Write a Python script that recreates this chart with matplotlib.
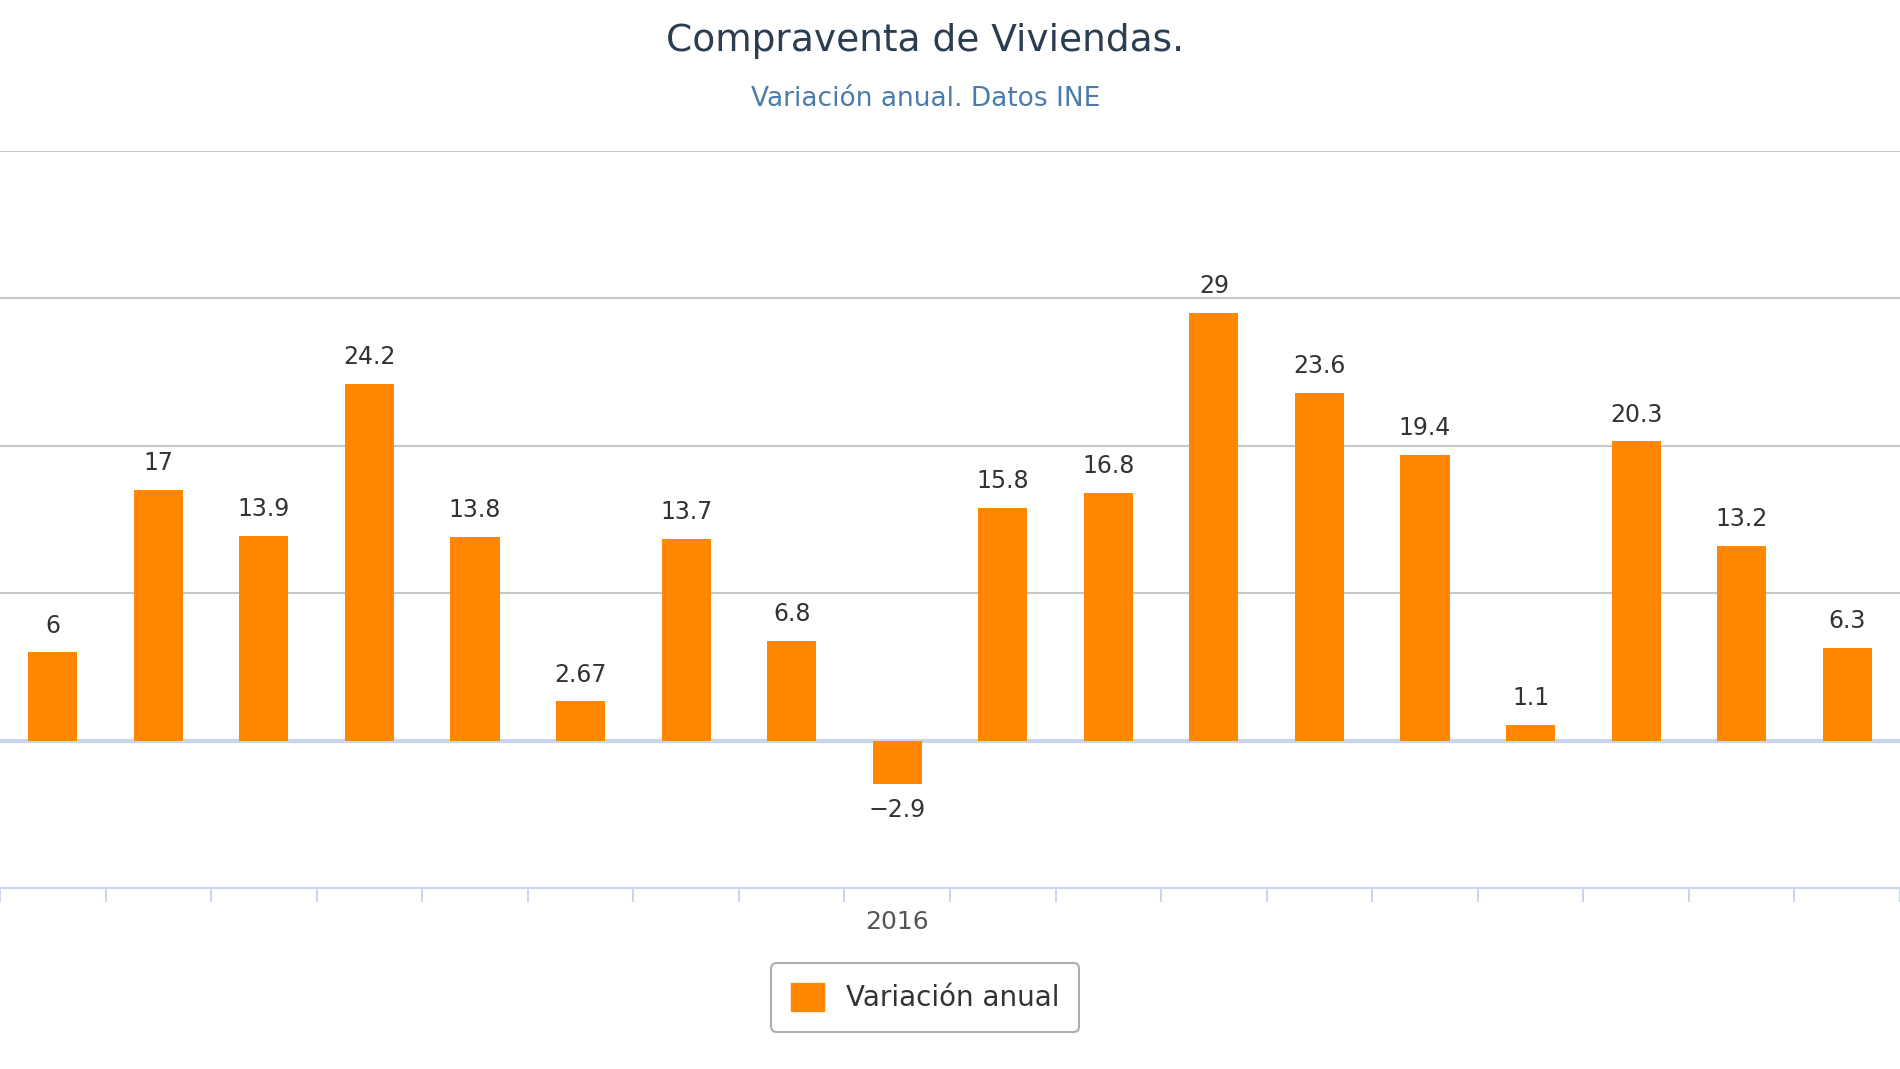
import matplotlib
matplotlib.use("Agg")
import matplotlib.pyplot as plt
from matplotlib.patches import Patch

values = [6, 17, 13.9, 24.2, 13.8, 2.67, 13.7, 6.8, -2.9, 15.8, 16.8, 29, 23.6, 19.4, 1.1, 20.3, 13.2, 6.3]
labels = ["6", "17", "13.9", "24.2", "13.8", "2.67", "13.7", "6.8", "-2.9", "15.8", "16.8", "29", "23.6", "19.4", "1.1", "20.3", "13.2", "6.3"]
year_label = "2016"
year_index = 8

fig = plt.figure(figsize=(19, 10.69), dpi=100)
ax = fig.add_axes([0, 0.169, 1, 0.69])
x = list(range(len(values)))
for y in [10, 20, 30, 40]:
    ax.axhline(y, color="#c8c8c8", lw=1.5, zorder=0)
ax.axhline(0, color="#ccd6eb", lw=3, zorder=1)
ax.bar(x, values, width=0.465, color="#FF8800", zorder=2)
for xi, v, t in zip(x, values, labels):
    off = 1.0 if v >= 0 else -1.0
    ax.text(xi, v + off, t.replace("-", "\u2212"), ha="center", va="bottom" if v >= 0 else "top",
            fontsize=17, color="#333333", zorder=3)
ax.set_xlim(-0.276, 17.05)
ax.set_ylim(-10, 40)
for s in ["top", "left", "right"]:
    ax.spines[s].set_visible(False)
ax.spines["bottom"].set_color("#ccd6eb")
ax.spines["bottom"].set_linewidth(1.5)
ax.set_yticks([])
ticks = [i + 0.5 for i in range(-1, 18)]
ax.set_xticks(ticks, minor=False)
ax.set_xticklabels([""] * len(ticks))
ax.tick_params(axis="x", length=10, width=1.5, color="#ccd6eb")
ax.text(year_index, -11.5, year_label, ha="center", va="top", fontsize=18, color="#555555")

fig.text(0.487, 0.962, "Compraventa de Viviendas.", ha="center", va="center", fontsize=27, color="#2b3d50")
fig.text(0.487, 0.907, "Variación anual. Datos INE", ha="center", va="center", fontsize=19, color="#4b7bab")

leg = fig.legend(handles=[Patch(color="#FF8800", label="Variación anual")], loc="center",
                 bbox_to_anchor=(0.487, 0.067), fontsize=20, frameon=True, fancybox=True,
                 handlelength=1.2, handleheight=1.2, borderpad=0.7, labelcolor="#333333")
leg.get_frame().set_edgecolor("#999999")
leg.get_frame().set_linewidth(1.5)
fig.savefig("out.png", dpi=100)
